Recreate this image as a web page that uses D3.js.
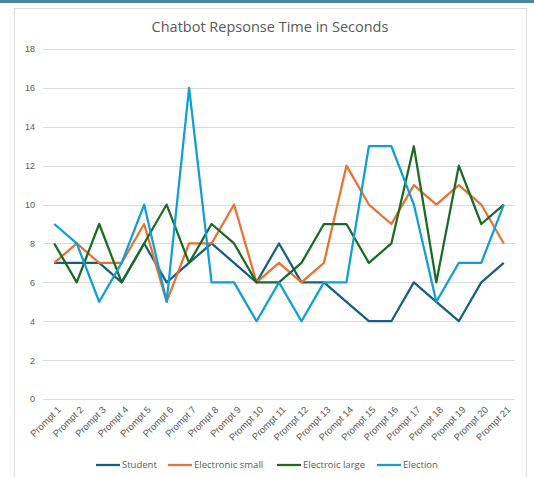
<!DOCTYPE HTML>
<html>
<head>
  <style>
  body {
    margin: 0;
    background: #fff;
    font-family: 'Open Sans', 'Liberation Sans', sans-serif;
  }
  .axis text {
    fill: #595959;
    font-size: 9px;
  }
  .x.axis text {
    font-size: 9.5px;
  }
  .grid line {
    stroke: #d9d9d9;
    stroke-width: 1;
  }
  </style>
  <script src="https://d3js.org/d3.v7.min.js"></script>
</head>
<body>
  <script type="text/javascript">
  // data
  var prompts = ['Prompt 1','Prompt 2','Prompt 3','Prompt 4','Prompt 5','Prompt 6','Prompt 7',
                 'Prompt 8','Prompt 9','Prompt 10','Prompt 11','Prompt 12','Prompt 13','Prompt 14',
                 'Prompt 15','Prompt 16','Prompt 17','Prompt 18','Prompt 19','Prompt 20','Prompt 21'];
  var student         = [7, 7, 7, 6, 8, 6, 7, 8, 7, 6, 8, 6, 6, 5, 4, 4, 6, 5, 4, 6, 7];
  var electronicSmall = [7, 8, 7, 7, 9, 5, 8, 8, 10, 6, 7, 6, 7, 12, 10, 9, 11, 10, 11, 10, 8];
  var electroicLarge  = [8, 6, 9, 6, 8, 10, 7, 9, 8, 6, 6, 7, 9, 9, 7, 8, 13, 6, 12, 9, 10];
  var election        = [9, 8, 5, 7, 10, 5, 16, 6, 6, 4, 6, 4, 6, 6, 13, 13, 10, 5, 7, 7, 10];
  var yTicks = [0, 2, 4, 6, 8, 10, 12, 14, 16, 18];
  var seriesNames = ['Student', 'Electronic small', 'Electroic large', 'Election'];
  var seriesColors = ['#156082', '#E97132', '#196B24', '#0F9ED5'];

  function draw() {
    'use strict';
    var series = [student, electronicSmall, electroicLarge, election];

    var width = 534,
        height = 477,
        plotLeft = 43,
        plotRight = 515,
        plotTop = 49,
        plotBottom = 399;

    var svg = d3.select('body')
                .append('svg')
                .attr('width', width)
                .attr('height', height);

    // frame
    svg.append('rect')
       .attr('x', 0).attr('y', 0)
       .attr('width', width).attr('height', 3)
       .attr('fill', '#4a86a0');
    svg.append('rect')
       .attr('x', 14.5).attr('y', 8.5)
       .attr('width', 512).attr('height', 480)
       .attr('fill', 'none')
       .attr('stroke', '#d9d9d9');

    svg.append('text')
       .attr('x', 270)
       .attr('y', 32)
       .attr('text-anchor', 'middle')
       .attr('fill', '#595959')
       .style('font-size', '14.5px')
       .text('Chatbot Repsonse Time in Seconds');

    var x_scale = d3.scaleBand()
                    .domain(prompts)
                    .range([plotLeft, plotRight]);
    var y_scale = d3.scaleLinear()
                    .domain([0, 18])
                    .range([plotBottom, plotTop]);

    // gridlines
    svg.append('g')
       .attr('class', 'grid')
       .selectAll('line')
       .data(yTicks)
       .enter()
       .append('line')
       .attr('x1', plotLeft)
       .attr('x2', plotRight)
       .attr('y1', function(d) { return Math.round(y_scale(d)) + 0.5; })
       .attr('y2', function(d) { return Math.round(y_scale(d)) + 0.5; });

    var y_axis = d3.axisLeft(y_scale).tickValues(yTicks).tickSize(0).tickPadding(8);
    svg.append('g')
       .attr('class', 'y axis')
       .attr('transform', 'translate(' + plotLeft + ',0)')
       .call(y_axis)
       .call(function(g) { g.select('.domain').remove(); });

    var x_axis = d3.axisBottom(x_scale).tickSize(0).tickPadding(0);
    svg.append('g')
       .attr('class', 'x axis')
       .attr('transform', 'translate(0,' + (plotBottom + 6) + ')')
       .call(x_axis)
       .call(function(g) { g.select('.domain').remove(); })
       .selectAll('text')
       .attr('text-anchor', 'end')
       .attr('dy', '0.35em')
       .attr('transform', 'translate(5,3) rotate(-45)');

    var line = d3.line()
                 .x(function(d, i) { return x_scale(prompts[i]) + x_scale.bandwidth() / 2; })
                 .y(function(d) { return y_scale(d); });

    svg.append('g')
       .selectAll('path')
       .data(series)
       .enter()
       .append('path')
       .attr('d', line)
       .attr('fill', 'none')
       .attr('stroke', function(d, i) { return seriesColors[i]; })
       .attr('stroke-width', 2.25)
       .attr('stroke-linejoin', 'round');

    // legend
    var legendX = [96, 168, 277, 377];
    var legend = svg.append('g')
                    .selectAll('g')
                    .data(seriesNames)
                    .enter()
                    .append('g')
                    .attr('transform', function(d, i) { return 'translate(' + legendX[i] + ',465)'; });
    legend.append('line')
          .attr('x1', 0).attr('x2', 24)
          .attr('stroke', function(d, i) { return seriesColors[i]; })
          .attr('stroke-width', 2.25);
    legend.append('text')
          .attr('x', 26)
          .attr('dy', '0.35em')
          .attr('fill', '#595959')
          .style('font-size', '9.5px')
          .text(function(d) { return d; });
  }

  draw();
  </script>
</body>
</html>
